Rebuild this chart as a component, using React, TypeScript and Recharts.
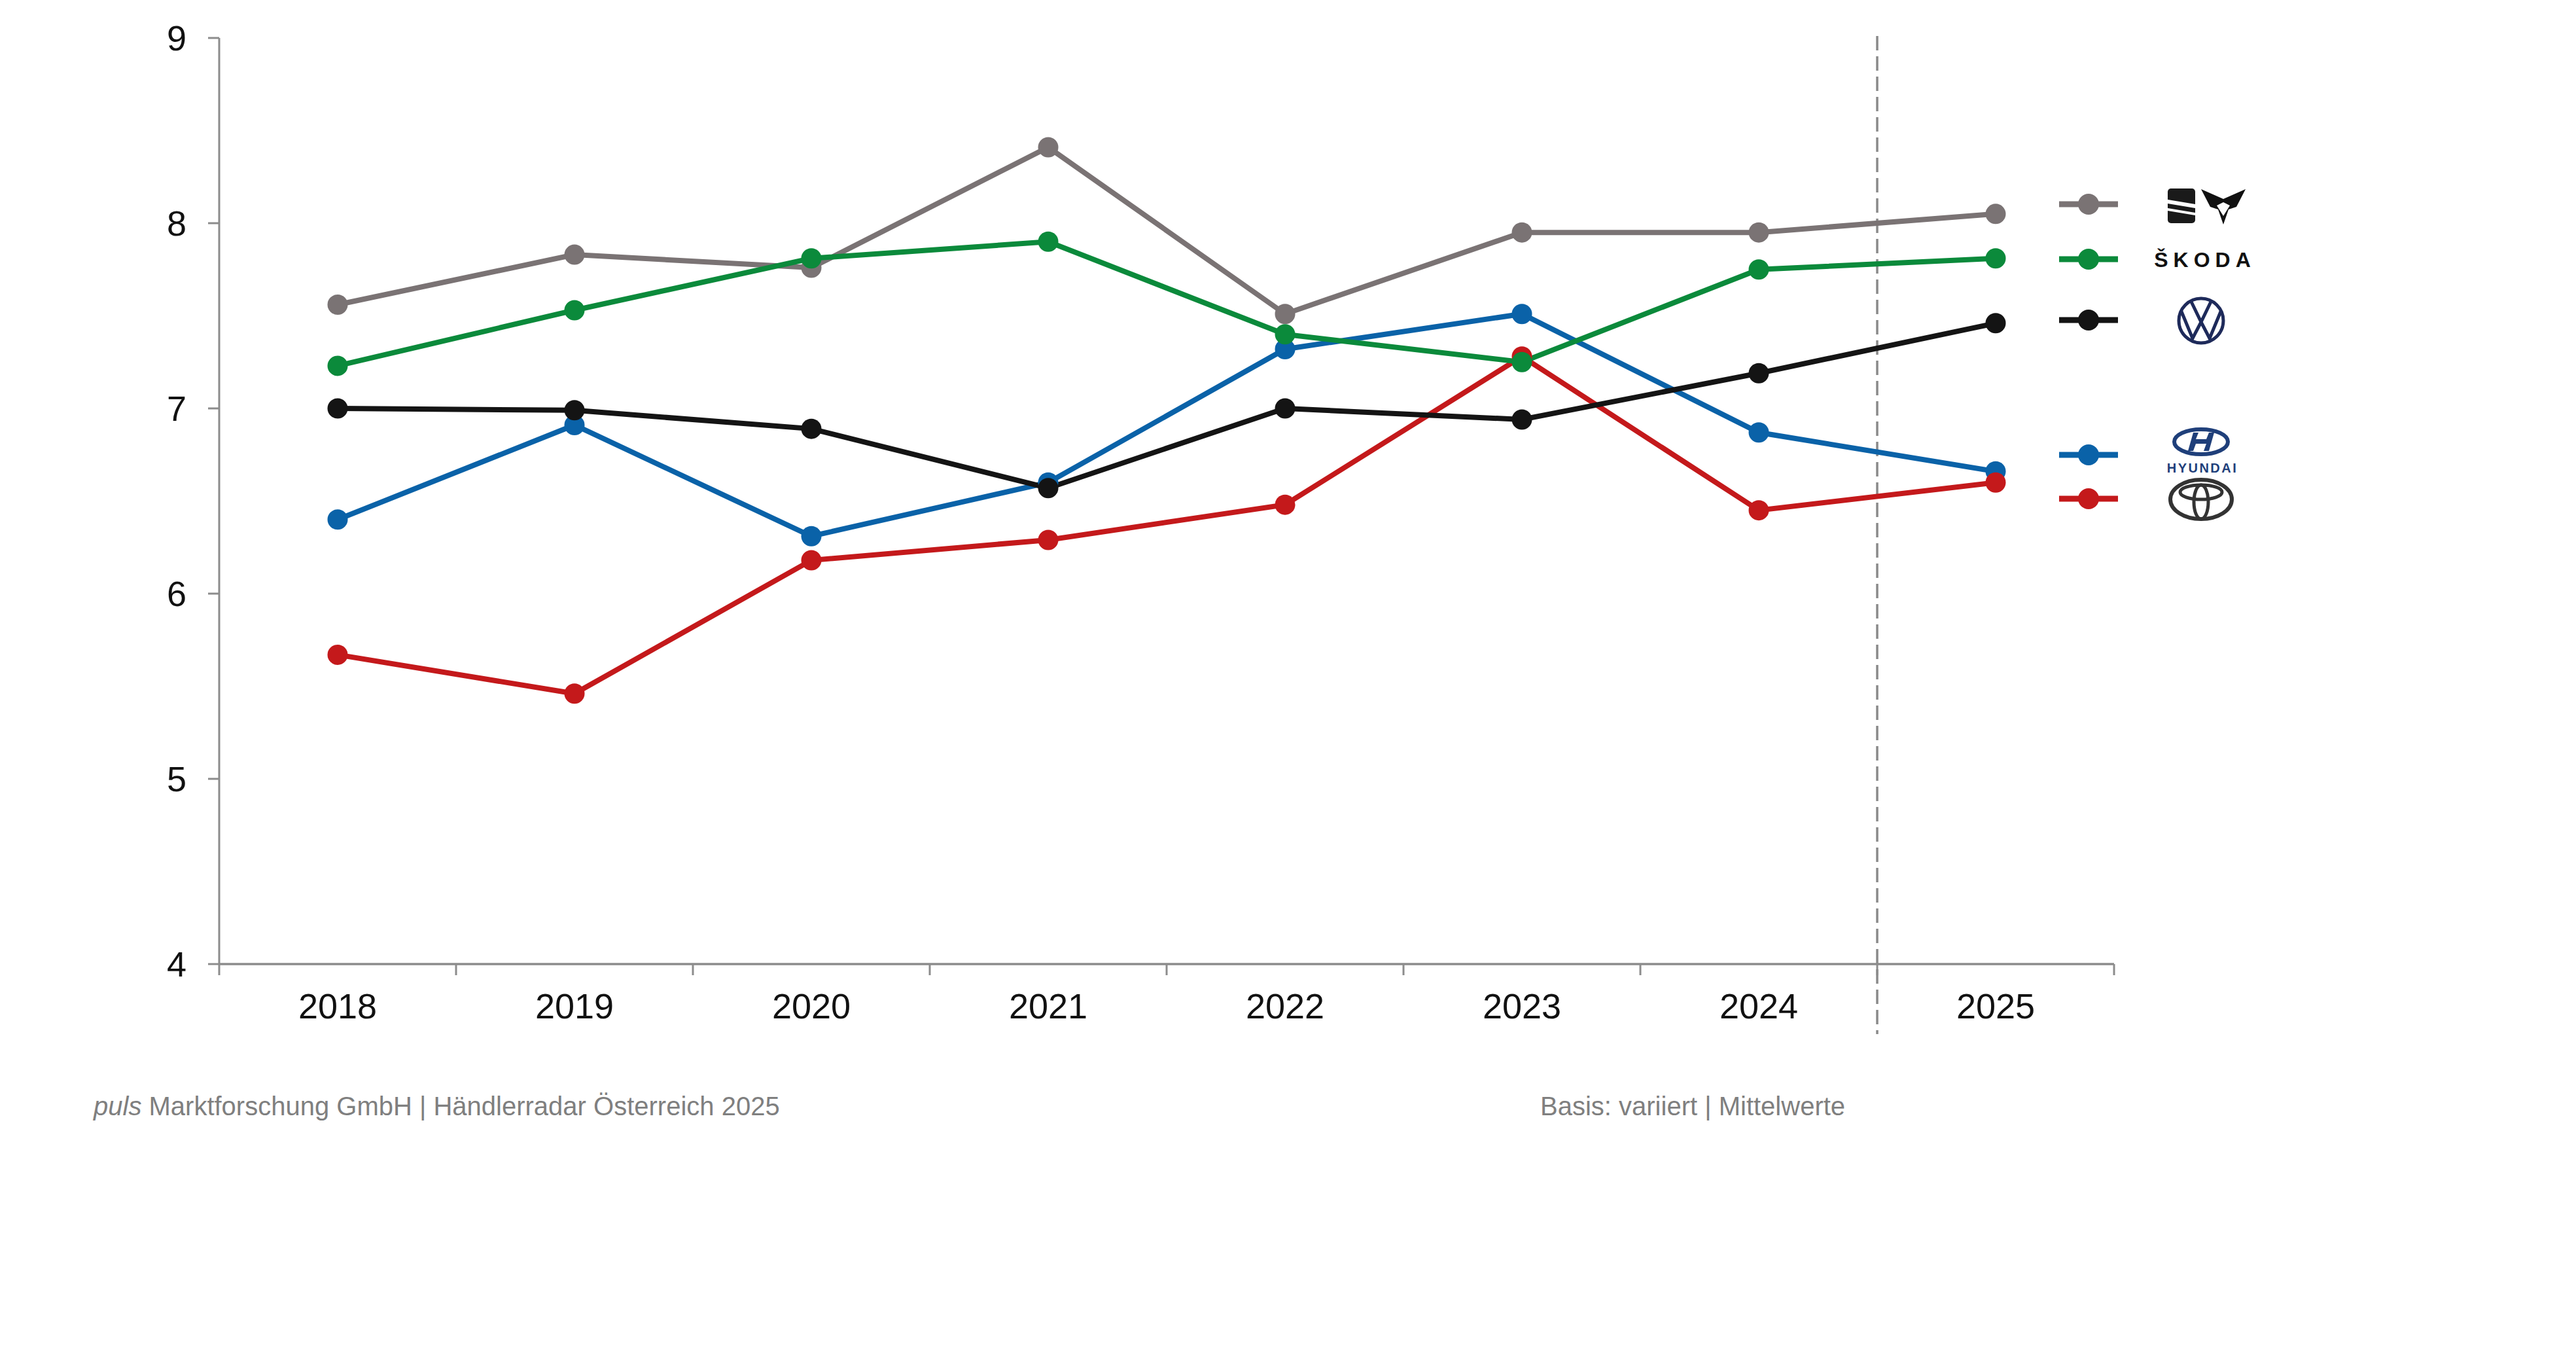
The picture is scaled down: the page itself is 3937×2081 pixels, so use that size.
import React from 'react';
import { LineChart, Line, XAxis, YAxis, ReferenceLine } from 'recharts';

const years = ['2018', '2019', '2020', '2021', '2022', '2023', '2024', '2025'];
const seatCupra = [7.56, 7.83, 7.76, 8.41, 7.51, 7.95, 7.95, 8.05];
const skoda = [7.23, 7.53, 7.81, 7.9, 7.4, 7.25, 7.75, 7.81];
const vw = [7.0, 6.99, 6.89, 6.57, 7.0, 6.94, 7.19, 7.46];
const hyundai = [6.4, 6.91, 6.31, 6.6, 7.32, 7.51, 6.87, 6.66];
const toyota = [5.67, 5.46, 6.18, 6.29, 6.48, 7.28, 6.45, 6.6];
const yTicks = [4, 5, 6, 7, 8, 9];

const series = [
  { key: 'hyundai', name: 'Hyundai', values: hyundai, color: '#0a62a8' },
  { key: 'toyota', name: 'Toyota', values: toyota, color: '#c4191b' },
  { key: 'seatCupra', name: 'SEAT / CUPRA', values: seatCupra, color: '#7a7374' },
  { key: 'skoda', name: 'Škoda', values: skoda, color: '#0b8a3b' },
  { key: 'vw', name: 'VW', values: vw, color: '#141414' },
];

const data = years.map((year, i) => {
  const row: Record<string, string | number> = { year };
  series.forEach((s) => {
    row[s.key] = s.values[i];
  });
  return row;
});

const FONT = '"Liberation Sans", Arial, sans-serif';
const AXIS = '#8c8c8c';
const NAVY = '#1e2a5a';

// custom x tick: label at band centre, tick mark at band start (and end for the last one)
const XTick = (props: any) => {
  const { x, y, payload, index } = props;
  const half = payload?.offset || 181;
  const axisY = y - 17;
  return (
    <g>
      <line x1={x - half} y1={axisY} x2={x - half} y2={axisY + 17} stroke={AXIS} strokeWidth={3} />
      {index === years.length - 1 && (
        <line x1={x + half} y1={axisY} x2={x + half} y2={axisY + 17} stroke={AXIS} strokeWidth={3} />
      )}
      <text x={x} y={axisY + 83} textAnchor="middle" fontSize={54} fontFamily={FONT} fill="#111">
        {payload.value}
      </text>
    </g>
  );
};

// dashed divider before the current year, running a little below the x axis
const DashedDivider = (props: any) => {
  const { x1, y1, x2, y2 } = props;
  const top = Math.min(y1, y2);
  const bottom = Math.max(y1, y2);
  return (
    <line
      x1={x1}
      y1={top - 3}
      x2={x2}
      y2={bottom + 107}
      stroke="#8a8a8a"
      strokeWidth={3.5}
      strokeDasharray="22 9"
    />
  );
};

// legend rows (top to bottom, as in the reference)
const legendRows = [
  { key: 'seatCupra', y: 312 },
  { key: 'skoda', y: 396 },
  { key: 'vw', y: 489 },
  { key: 'hyundai', y: 695 },
  { key: 'toyota', y: 762 },
];

function Logos() {
  return (
    <g>
      {/* SEAT */}
      <rect x={3313} y={288} width={42} height={53} rx={5} fill="#1a1a1a" />
      <polygon points="3313,305 3355,312 3355,318 3313,311" fill="#fff" />
      <polygon points="3313,318 3355,325 3355,329 3313,322" fill="#fff" />
      {/* CUPRA */}
      <path
        d="M3364 289 L3398 304 L3432 289 L3418 316 L3406 320 L3398 343 L3390 320 L3378 316 Z"
        fill="#111"
      />
      <path d="M3388 314 L3398 309 L3408 314 L3398 330 Z" fill="#fff" />
      {/* SKODA */}
      <text
        x={3370}
        y={408}
        textAnchor="middle"
        fontSize={32}
        fontWeight="bold"
        fontFamily={FONT}
        letterSpacing={8}
        fill="#111"
      >
        ŠKODA
      </text>
      {/* VW */}
      <circle cx={3364} cy={490} r={34} fill="none" stroke={NAVY} strokeWidth={5} />
      <polyline
        points="3349,461 3364,492 3379,461"
        fill="none"
        stroke={NAVY}
        strokeWidth={5}
        strokeLinejoin="miter"
      />
      <polyline
        points="3334,476 3351,517 3364,492 3377,517 3394,476"
        fill="none"
        stroke={NAVY}
        strokeWidth={5}
        strokeLinejoin="miter"
      />
      {/* HYUNDAI */}
      <ellipse cx={3364} cy={675} rx={41} ry={19} fill="none" stroke="#1f3f7a" strokeWidth={6} />
      <path
        d="M3352 661 L3360 661 L3356 671 L3372 671 L3376 661 L3384 661 L3376 689 L3368 689 L3372 678 L3356 678 L3352 689 L3344 689 Z"
        fill="#1f3f7a"
      />
      <text
        x={3366}
        y={722}
        textAnchor="middle"
        fontSize={20}
        fontWeight="bold"
        fontFamily={FONT}
        letterSpacing={2.5}
        fill="#1f3f7a"
      >
        HYUNDAI
      </text>
      {/* TOYOTA */}
      <ellipse cx={3364} cy={763} rx={47} ry={30} fill="none" stroke="#333" strokeWidth={6} />
      <ellipse cx={3364} cy={767} rx={11} ry={26} fill="none" stroke="#333" strokeWidth={5} />
      <ellipse cx={3364} cy={752} rx={32} ry={11} fill="none" stroke="#333" strokeWidth={5} />
    </g>
  );
}

export default function App() {
  return (
    <div style={{ position: 'absolute', left: 0, top: 0, width: 3937, height: 2081, background: '#fff' }}>
      <LineChart
        width={3937}
        height={1700}
        data={data}
        margin={{ top: 58, right: 706, bottom: 77, left: 215 }}
      >
        <XAxis
          dataKey="year"
          type="category"
          scale="band"
          height={150}
          axisLine={{ stroke: AXIS, strokeWidth: 3.5 }}
          tickLine={false}
          tickSize={17}
          tickMargin={0}
          interval={0}
          tick={<XTick />}
        />
        <YAxis
          type="number"
          domain={[4, 9]}
          ticks={yTicks}
          width={120}
          interval={0}
          axisLine={{ stroke: AXIS, strokeWidth: 3 }}
          tickLine={{ stroke: AXIS, strokeWidth: 3 }}
          tickSize={17}
          tickMargin={33}
          tick={{ fontSize: 54, fontFamily: FONT, fill: '#111' }}
        />
        <ReferenceLine x="2025" position="start" ifOverflow="visible" shape={<DashedDivider />} />
        {series.map((s) => (
          <Line
            key={s.key}
            dataKey={s.key}
            name={s.name}
            type="linear"
            stroke={s.color}
            strokeWidth={8}
            dot={{ r: 15.5, fill: s.color, stroke: s.color, strokeWidth: 0 }}
            activeDot={false}
            isAnimationActive={false}
          />
        ))}
      </LineChart>
      <svg
        width={3937}
        height={2081}
        style={{ position: 'absolute', left: 0, top: 0, pointerEvents: 'none' }}
      >
        {legendRows.map((row) => {
          const s = series.find((x) => x.key === row.key)!;
          return (
            <g key={row.key}>
              <line x1={3147} y1={row.y} x2={3237} y2={row.y} stroke={s.color} strokeWidth={9} />
              <circle cx={3192} cy={row.y} r={16} fill={s.color} />
            </g>
          );
        })}
        <Logos />
        <text x={143} y={1704} fontSize={40} fontFamily={FONT} fill="#7f7f7f">
          <tspan fontStyle="italic">puls</tspan> Marktforschung GmbH | Händlerradar Österreich 2025
        </text>
        <text x={2354} y={1704} fontSize={40} fontFamily={FONT} fill="#7f7f7f">
          Basis: variiert | Mittelwerte
        </text>
      </svg>
    </div>
  );
}
